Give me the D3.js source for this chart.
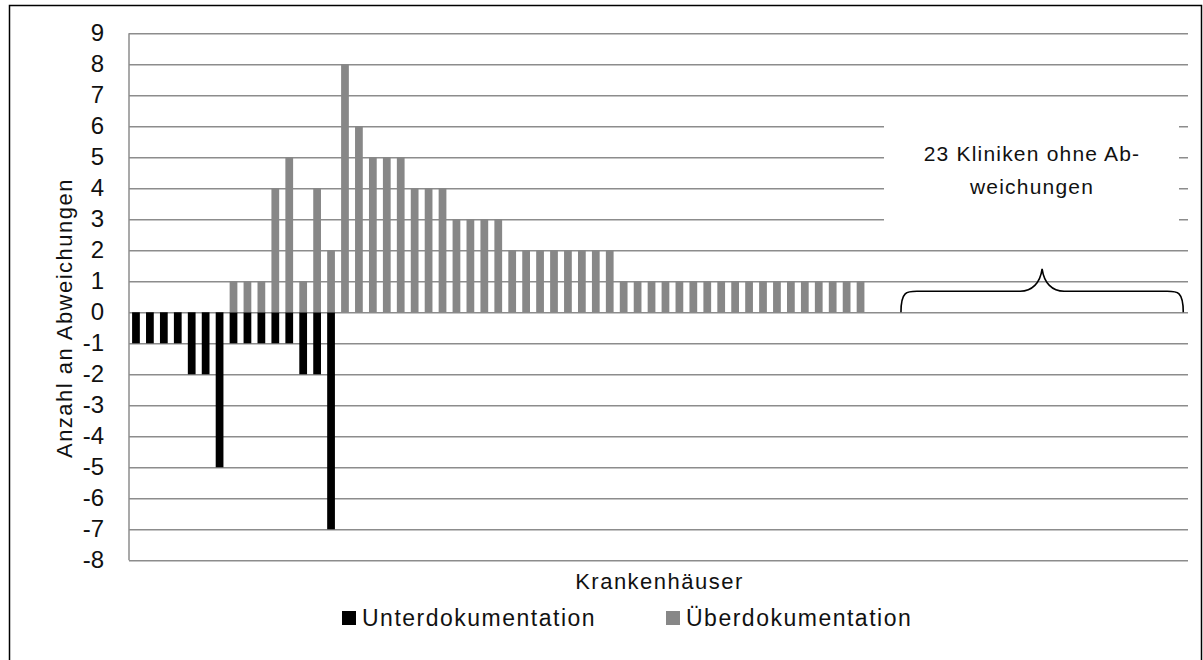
<!DOCTYPE html>
<html>
<head>
<meta charset="utf-8">
<script src="https://cdn.jsdelivr.net/npm/d3@7"></script>
<style>
  body { margin: 0; background: #fff; }
  text { font-family: "Liberation Sans", Arial, sans-serif; fill: #111; }
</style>
</head>
<body>
<div id="chart"></div>
<script>
// Abweichungen je Krankenhaus (53 Kliniken mit Abweichungen, danach 23 ohne)
const unterdokumentation = [
  -1, -1, -1, -1, -2, -2, -5, -1, -1, -1, -1, -1, -2, -2, -7,
  0, 0, 0, 0, 0, 0, 0, 0, 0, 0, 0, 0, 0, 0, 0, 0, 0, 0, 0, 0, 0, 0, 0, 0,
  0, 0, 0, 0, 0, 0, 0, 0, 0, 0, 0, 0, 0, 0
];
const ueberdokumentation = [
  0, 0, 0, 0, 0, 0, 0, 1, 1, 1, 4, 5, 1, 4, 2,
  8, 6, 5, 5, 5, 4, 4, 4, 3, 3, 3, 3, 2, 2, 2, 2, 2, 2, 2, 2,
  1, 1, 1, 1, 1, 1, 1, 1, 1, 1, 1, 1, 1, 1, 1, 1, 1, 1
];
const ohneAbweichungen = 23;
const yTicks = [-8, -7, -6, -5, -4, -3, -2, -1, 0, 1, 2, 3, 4, 5, 6, 7, 8, 9];
const legende = ["Unterdokumentation", "Überdokumentation"];
const farben = ["#000000", "#878787"];

const krankenhaeuser = d3.range(ueberdokumentation.length + ohneAbweichungen).map(i => "KH " + (i + 1));

const width = 1203, height = 660;
const plot = { left: 129, right: 1188, top: 33.3, bottom: 560.3 };

const svg = d3.select("#chart")
    .append("svg")
    .attr("width", width)
    .attr("height", height);

// Rahmen
svg.append("rect")
    .attr("x", 9.5).attr("y", 5.5)
    .attr("width", 1192).attr("height", 700)
    .attr("fill", "none")
    .attr("stroke", "#000")
    .attr("stroke-width", 1.5);

const x = d3.scaleBand()
    .domain(krankenhaeuser)
    .range([plot.left, plot.right])
    .paddingInner(0.444)
    .paddingOuter(0.222);

const y = d3.scaleLinear().domain([-8, 9]).range([plot.bottom, plot.top]);

// Gitterlinien + Beschriftung
const yAxis = svg.append("g")
    .attr("transform", `translate(${plot.left}, 0)`)
    .call(d3.axisLeft(y)
        .tickValues(yTicks)
        .tickSize(-(plot.right - plot.left))
        .tickPadding(25)
        .tickFormat(d => String(d)));
yAxis.select(".domain").remove();
yAxis.selectAll(".tick line")
    .attr("stroke", "#8c8c8c")
    .attr("stroke-width", 1.5);
yAxis.selectAll(".tick text")
    .style("font-size", "24px")
    .attr("fill", "#111");

// Balken
const chart = svg.append("g").attr("class", "chart");

chart.selectAll(".unter")
    .data(unterdokumentation.map((v, i) => ({ kh: krankenhaeuser[i], v })).filter(d => d.v < 0))
    .enter()
    .append("rect")
    .attr("class", "unter")
    .attr("x", d => x(d.kh))
    .attr("width", x.bandwidth())
    .attr("y", y(0))
    .attr("height", d => y(d.v) - y(0))
    .attr("fill", farben[0]);

chart.selectAll(".ueber")
    .data(ueberdokumentation.map((v, i) => ({ kh: krankenhaeuser[i], v })).filter(d => d.v > 0))
    .enter()
    .append("rect")
    .attr("class", "ueber")
    .attr("x", d => x(d.kh))
    .attr("width", x.bandwidth())
    .attr("y", d => y(d.v))
    .attr("height", d => y(0) - y(d.v))
    .attr("fill", farben[1]);

// senkrechte Achse
svg.append("line")
    .attr("x1", plot.left).attr("x2", plot.left)
    .attr("y1", plot.top).attr("y2", plot.bottom)
    .attr("stroke", "#8c8c8c")
    .attr("stroke-width", 1.5);

// Textfeld + Klammer fuer die Kliniken ohne Abweichungen
svg.append("rect")
    .attr("x", 884).attr("y", 105)
    .attr("width", 295).attr("height", 130)
    .attr("fill", "#fff");

const note = svg.append("text")
    .attr("text-anchor", "middle")
    .style("font-size", "21px")
    .style("letter-spacing", "1.2px");
note.append("tspan").attr("x", 1032).attr("y", 160.7).text("23 Kliniken ohne Ab-");
note.append("tspan").attr("x", 1032).attr("y", 194).text("weichungen");

const step = x.step();
const bx0 = plot.left + step * 55.4, bx1 = plot.left + step * 75.66;
const bm = (bx0 + bx1) / 2;
const yb = y(0), yf = y(0.68), yp = y(1.4);
const brace = d3.path();
brace.moveTo(bx0, yb);
brace.bezierCurveTo(bx0, yf, bx0 + 6, yf, bx0 + 16, yf);
brace.lineTo(bm - 22, yf);
brace.bezierCurveTo(bm - 10, yf, bm - 2, yf - 8, bm, yp);
brace.bezierCurveTo(bm + 2, yf - 8, bm + 10, yf, bm + 22, yf);
brace.lineTo(bx1 - 16, yf);
brace.bezierCurveTo(bx1 - 6, yf, bx1, yf, bx1, yb);
svg.append("path")
    .attr("d", brace.toString())
    .attr("fill", "none")
    .attr("stroke", "#000")
    .attr("stroke-width", 1.6);

// Achsentitel
svg.append("text")
    .attr("x", (plot.left + plot.right) / 2 + 1)
    .attr("y", 589.3)
    .attr("text-anchor", "middle")
    .style("font-size", "22px")
    .style("letter-spacing", "1.5px")
    .text("Krankenhäuser");

svg.append("text")
    .attr("transform", "translate(72, 318) rotate(-90)")
    .attr("text-anchor", "middle")
    .style("font-size", "22px")
    .style("letter-spacing", "1.5px")
    .text("Anzahl an Abweichungen");

// Legende
const legendPos = [342, 666];
const lg = svg.append("g").attr("class", "legend");
legende.forEach((name, i) => {
    lg.append("rect")
        .attr("x", legendPos[i]).attr("y", 611)
        .attr("width", 14).attr("height", 14)
        .attr("fill", farben[i]);
    lg.append("text")
        .attr("x", legendPos[i] + 20)
        .attr("y", 625.7)
        .style("font-size", "23px")
        .style("letter-spacing", "1.5px")
        .text(name);
});
</script>
</body>
</html>
